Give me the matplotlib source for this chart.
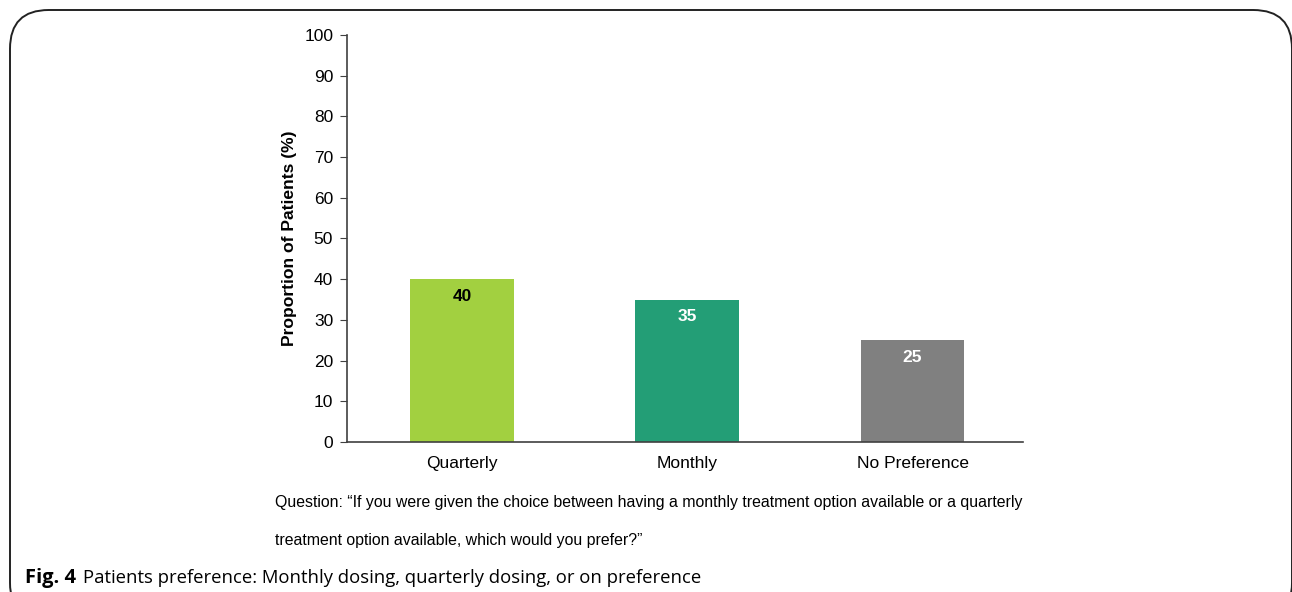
import matplotlib.pyplot as plt
from matplotlib.patches import FancyBboxPatch

# data
categories = ["Quarterly", "Monthly", "No Preference"]
values = [40, 35, 25]
bar_colors = ["#A2D040", "#239E76", "#808080"]
label_colors = ["black", "white", "white"]
yticks = list(range(0, 101, 10))

plt.rcParams['font.family'] = ['Liberation Sans', 'DejaVu Sans']

fig = plt.figure(figsize=(12.92, 5.92), dpi=100)

# rounded frame around the figure panel
frame = FancyBboxPatch((10 / 1292, -0.05), 1282 / 1292, 1.05 - 10 / 592,
                       boxstyle="round,pad=0,rounding_size=0.03",
                       transform=fig.transFigure, fill=False,
                       edgecolor="#222222", linewidth=1.4, mutation_aspect=1292 / 592)
fig.patches.append(frame)

ax = fig.add_axes([0.2686, 0.2534, 0.5232, 0.6875])
x = range(len(categories))
bars = ax.bar(x, values, width=0.46, color=bar_colors)

for b, v, c in zip(bars, values, label_colors):
    ax.text(b.get_x() + b.get_width() / 2, v - 2.3, str(v), ha="center", va="top",
            fontsize=12.5, fontweight="bold", color=c)

ax.set_xlim(-0.51, 2.49)
ax.set_ylim(0, 100)
ax.set_yticks(yticks)
ax.set_xticks(list(x))
ax.set_xticklabels(categories, fontsize=12.5)
ax.tick_params(axis="y", labelsize=12.5, length=5, color="#404040", pad=5)
ax.tick_params(axis="x", length=0, pad=10)
ax.spines["top"].set_visible(False)
ax.spines["right"].set_visible(False)
for s in ["left", "bottom"]:
    ax.spines[s].set_color("#404040")
    ax.spines[s].set_linewidth(1.2)
ax.set_ylabel("Proportion of Patients (%)", fontsize=12.6, fontweight="bold", labelpad=5)

fig.text(275 / 1292, 1 - 502 / 592,
         "Question: \u201cIf you were given the choice between having a monthly treatment option available or a quarterly",
         fontsize=11.4, va="center", ha="left")
fig.text(275 / 1292, 1 - 540 / 592,
         "treatment option available, which would you prefer?\u201d",
         fontsize=11.4, va="center", ha="left")

fig.text(25 / 1292, 1 - 578 / 592, "Fig. 4", fontsize=14.5, fontweight="bold",
         family=["Open Sans", "DejaVu Sans"], va="center", ha="left")
fig.text(83 / 1292, 1 - 578 / 592, "Patients preference: Monthly dosing, quarterly dosing, or on preference",
         fontsize=13.3, family=["Open Sans", "DejaVu Sans"], va="center", ha="left")

fig.savefig("out.png", dpi=100)
